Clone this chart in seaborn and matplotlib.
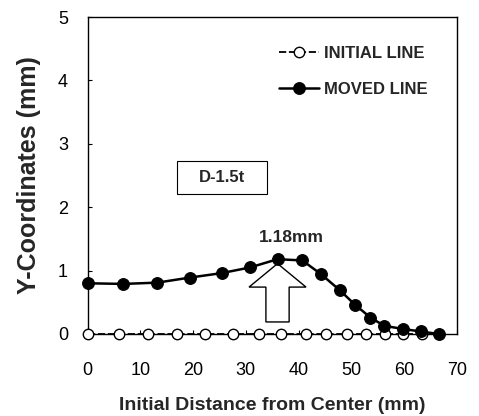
import matplotlib
matplotlib.use("Agg")
import matplotlib.pyplot as plt
import seaborn as sns
import pandas as pd
from matplotlib.patches import FancyArrow, Rectangle

initial_x = [0, 5.9, 11.4, 17.0, 22.2, 27.5, 32.5, 36.7, 41.3, 45.2, 49.2, 52.8, 56.3, 59.8, 63.3]
initial_y = [0] * 15
moved_x = [0, 6.8, 13.2, 19.4, 25.4, 30.8, 36.0, 40.7, 44.3, 47.8, 50.7, 53.6, 56.2, 59.7, 63.1, 66.5]
moved_y = [0.80, 0.79, 0.81, 0.89, 0.96, 1.05, 1.18, 1.16, 0.94, 0.69, 0.46, 0.26, 0.13, 0.08, 0.04, 0.0]
x_ticks = [0, 10, 20, 30, 40, 50, 60, 70]
y_ticks = [0, 1, 2, 3, 4, 5]

sns.set_theme(style="white")
plt.rcParams['font.family'] = ['Liberation Sans', 'DejaVu Sans']

fig = plt.figure(figsize=(4.79, 4.16), dpi=100)
ax = fig.add_axes([87.5/479, 1 - 334/416, (457-87.5)/479, (334-17)/416])

df_i = pd.DataFrame({"x": initial_x, "y": initial_y})
df_m = pd.DataFrame({"x": moved_x, "y": moved_y})

sns.lineplot(data=df_i, x="x", y="y", ax=ax, color="black", lw=1.3,
             linestyle=(0, (4, 1.5)), marker="o", markersize=7.5,
             markerfacecolor="white", markeredgecolor="black", markeredgewidth=1.0,
             label="INITIAL LINE", zorder=3, clip_on=False)
sns.lineplot(data=df_m, x="x", y="y", ax=ax, color="black", lw=1.8,
             marker="o", markersize=8.5, markerfacecolor="black",
             markeredgecolor="black", label="MOVED LINE", zorder=4, clip_on=False)

ax.set_xlim(0, 70)
ax.set_ylim(0, 5)
ax.set_xticks(x_ticks)
ax.set_yticks(y_ticks)
ax.tick_params(axis='both', direction='in', length=3, width=0.8, labelsize=13,
               colors='black', left=True, bottom=True)
ax.tick_params(axis='y', pad=14)
ax.tick_params(axis='x', pad=20)
for s in ax.spines.values():
    s.set_color('black')
    s.set_linewidth(1.0)

ax.set_xlabel("Initial Distance from Center (mm)", fontsize=14, fontweight='bold', labelpad=13)
ax.set_ylabel("Y-Coordinates (mm)", fontsize=18, fontweight='bold', labelpad=12)

# peak arrow
pk = moved_y.index(max(moved_y))
px = moved_x[pk]
arrow = FancyArrow(px, 0.19, 0, 0.92, width=4.4, head_width=10.8, head_length=0.37,
                   length_includes_head=True, fc='white', ec='black', lw=1.0, zorder=2)
ax.add_patch(arrow)
ax.text(px + 2.6, 1.52, f"{max(moved_y):.2f}mm", ha='center', va='center',
        fontsize=12.5, fontweight='bold')

ax.add_patch(Rectangle((0.242, 0.442), 0.244, 0.104, transform=ax.transAxes,
                       fc='white', ec='black', lw=0.8, zorder=2))
ax.text(25.5, 2.47, "D-1.5t", ha='center', va='center', fontsize=12, fontweight='bold',
        zorder=3)

leg = ax.legend(loc='upper right', frameon=False, prop={'weight': 'bold', 'size': 12},
                handlelength=2.4, handletextpad=0.3, labelspacing=1.25,
                bbox_to_anchor=(0.96, 0.955))

fig.savefig("out.png", dpi=100)
